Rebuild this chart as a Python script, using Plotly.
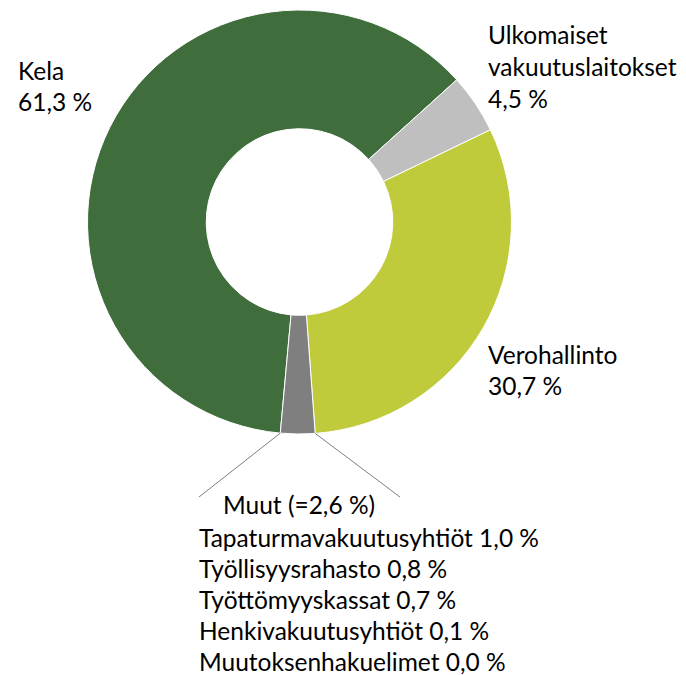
import math
import plotly.graph_objects as go

W, H = 686, 675

labels = ["Kela", "Ulkomaiset vakuutuslaitokset", "Verohallinto", "Muut"]
values = [61.3, 4.5, 30.7, 2.6]
colors = ["#3F6E3C", "#BFBFBF", "#BFCB3B", "#7F7F7F"]
label_text = {
    "Kela": ["Kela", "61,3 %"],
    "Ulkomaiset vakuutuslaitokset": ["Ulkomaiset", "vakuutuslaitokset", "4,5 %"],
    "Verohallinto": ["Verohallinto", "30,7 %"],
}
muut_title = "Muut (=2,6 %)"
muut_items = ["Tapaturmavakuutusyhtiöt", "Työllisyysrahasto", "Työttömyyskassat",
              "Henkivakuutusyhtiöt", "Muutoksenhakuelimet"]
muut_values = ["1,0 %", "0,8 %", "0,7 %", "0,1 %", "0,0 %"]

FONT = "Lato"
FS = 24.5
LH = 31.5

cx, cy, R = 299.5, 222.0, 212.0
hole = 0.44
rotation = 185.2

def px(x):
    return x / W

def py(y):
    return 1 - y / H

fig = go.Figure(go.Pie(
    labels=labels, values=values, sort=False, direction="clockwise",
    rotation=rotation, hole=hole, textinfo="none", hoverinfo="label+percent",
    marker=dict(colors=colors, line=dict(color="white", width=1)),
    domain=dict(x=[px(cx - R), px(cx + R)], y=[py(cy + R), py(cy - R)]),
))

ann = []
def add_lines(lines, x0, y0, step=LH):
    for i, t in enumerate(lines):
        ann.append(dict(text=t, x=px(x0), y=py(y0 + i * step), xref="paper", yref="paper",
                        xanchor="left", yanchor="middle", showarrow=False,
                        font=dict(family=FONT, size=FS, color="#000000")))

add_lines(label_text["Kela"], 16, 70)
add_lines(label_text["Ulkomaiset vakuutuslaitokset"], 486, 35)
add_lines(label_text["Verohallinto"], 486, 354)
add_lines([muut_title], 221, 504)
add_lines([f"{a} {b}" for a, b in zip(muut_items, muut_values)], 197, 537, 31.0)

# connector lines from Muut slice outer edges
total = sum(values)
start = rotation + 360 * sum(values[:3]) / total
end = rotation + 360 * sum(values) / total
shapes = []
for ang, (tx, ty) in [(start, (400, 497)), (end, (199, 497))]:
    a = math.radians(ang)
    sx = cx + R * math.sin(a)
    sy = cy - R * math.cos(a)
    shapes.append(dict(type="line", xref="paper", yref="paper",
                       x0=px(sx), y0=py(sy), x1=px(tx), y1=py(ty),
                       line=dict(color="#7F7F7F", width=1)))

fig.update_layout(width=W, height=H, margin=dict(l=0, r=0, t=0, b=0),
                  paper_bgcolor="white", plot_bgcolor="white", showlegend=False,
                  annotations=ann, shapes=shapes)
fig.write_html("out.html")
